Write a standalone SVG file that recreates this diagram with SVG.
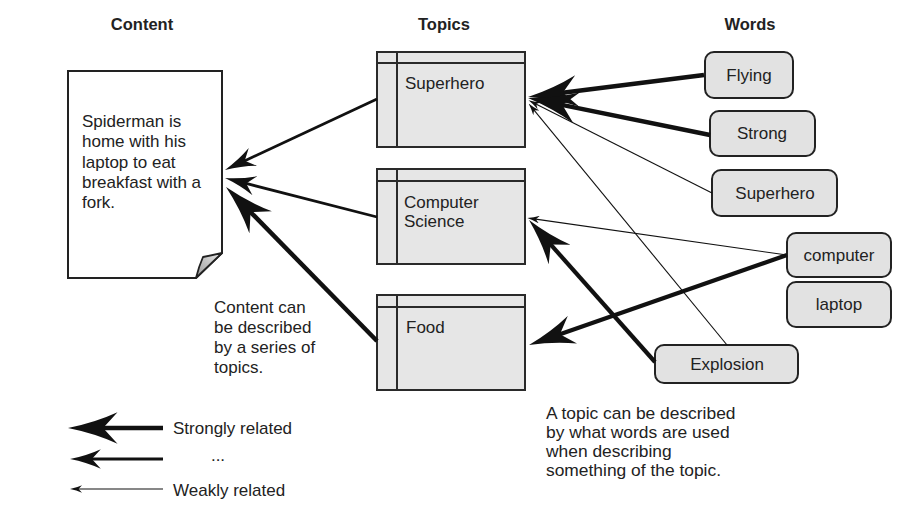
<svg xmlns="http://www.w3.org/2000/svg" width="913" height="524" viewBox="0 0 913 524">
<style>
text{font-family:"Liberation Sans",Arial,sans-serif;font-size:17px;fill:#222}
.h{font-weight:bold;text-anchor:middle;font-size:16.5px}
.c{text-anchor:middle}
.note text{font-size:17.4px}
.topic rect{fill:#e6e6e6;stroke:#2a2a2a;stroke-width:2}
.topic line{stroke:#2a2a2a;stroke-width:2}
.word rect{fill:#e2e2e2;stroke:#222;stroke-width:2}
.a{fill:none;stroke:#111;marker-end:url(#ah)}
.s{stroke-width:4.5}
.m{stroke-width:2.8}
.w{stroke-width:1.1}
</style>
<defs>
<marker id="ah" viewBox="0 0 11 7" markerWidth="11" markerHeight="7" refX="5" refY="3.5" orient="auto" markerUnits="strokeWidth">
<path d="M11,3.5 Q5,2.3 0,0 L3.2,3.5 L0,7 Q5,4.7 11,3.5 Z" fill="#111"/>
</marker>
<linearGradient id="fold" x1="0" y1="1" x2="1" y2="0">
<stop offset="0" stop-color="#9a9a9a"/>
<stop offset="1" stop-color="#e8e8e8"/>
</linearGradient>
</defs>
<rect width="913" height="524" fill="#fff"/>

<text class="h" x="142" y="30">Content</text>
<text class="h" x="444" y="30">Topics</text>
<text class="h" x="750" y="30">Words</text>

<g id="content">
<path d="M68,71 H222 V253 L196,278 H68 Z" fill="#fff" stroke="#222" stroke-width="2"/>
<path d="M196,278 Q199,266 203,257 Q213,255 222,253 Z" fill="url(#fold)" stroke="#222" stroke-width="1.8" stroke-linejoin="round"/>
<text x="82" y="127">Spiderman is</text>
<text x="82" y="147.3">home with his</text>
<text x="82" y="167.6">laptop to eat</text>
<text x="82" y="187.9">breakfast with a</text>
<text x="82" y="208.2">fork.</text>
</g>

<g id="topic-superhero" class="topic">
<rect x="377" y="52" width="148" height="95"/>
<line x1="377" y1="63" x2="525" y2="63"/>
<line x1="397" y1="52" x2="397" y2="147"/>
<text x="405" y="89">Superhero</text>
</g>
<g id="topic-cs" class="topic">
<rect x="377" y="169" width="148" height="95"/>
<line x1="377" y1="181" x2="525" y2="181"/>
<line x1="397" y1="169" x2="397" y2="264"/>
<text x="404" y="208">Computer</text>
<text x="404" y="227">Science</text>
</g>
<g id="topic-food" class="topic">
<rect x="377" y="295" width="148" height="95"/>
<line x1="377" y1="307" x2="525" y2="307"/>
<line x1="397" y1="295" x2="397" y2="390"/>
<text x="406" y="333">Food</text>
</g>

<g id="word-flying" class="word">
<rect x="705" y="52" width="88" height="46" rx="9"/>
<text class="c" x="749" y="81">Flying</text>
</g>
<g id="word-strong" class="word">
<rect x="710" y="111" width="105" height="45" rx="9"/>
<text class="c" x="762" y="139">Strong</text>
</g>
<g id="word-superhero" class="word">
<rect x="712" y="170" width="125" height="46" rx="9"/>
<text class="c" x="775" y="199">Superhero</text>
</g>
<g id="word-computer" class="word">
<rect x="787" y="233" width="104" height="44" rx="9"/>
<text class="c" x="839" y="261">computer</text>
</g>
<g id="word-laptop" class="word">
<rect x="787" y="282" width="104" height="45" rx="9"/>
<text class="c" x="839" y="310">laptop</text>
</g>
<g id="word-explosion" class="word">
<rect x="655" y="345" width="143" height="38" rx="9"/>
<text class="c" x="727" y="370">Explosion</text>
</g>

<g id="connectors">
<line class="a w" x1="712" y1="193" x2="534.4" y2="103.2"/>
<line class="a w" x1="727" y1="345" x2="532.8" y2="108.6"/>
<line class="a w" x1="787" y1="255" x2="533.9" y2="218.9"/>
<line class="a s" x1="704" y1="75" x2="554.8" y2="93.7"/>
<line class="a s" x1="710" y1="135" x2="554.5" y2="103.4"/>
<line class="a s" x1="655" y1="362" x2="545.7" y2="238.9" style="stroke-width:4.2"/>
<line class="a s" x1="787" y1="255" x2="552.8" y2="336.7" style="stroke-width:4.2"/>
<line class="a m" x1="377" y1="99" x2="240.2" y2="162.9"/>
<line class="a m" x1="377" y1="217" x2="241.3" y2="182.2"/>
<line class="a s" x1="377" y1="341" x2="244.9" y2="206.3"/>
</g>

<g id="note-content">
<text x="214" y="313">Content can</text>
<text x="214" y="333">be described</text>
<text x="214" y="353">by a series of</text>
<text x="214" y="373">topics.</text>
</g>
<g id="note-topic" class="note">
<text x="546" y="419">A topic can be described</text>
<text x="546" y="438">by what words are used</text>
<text x="546" y="457">when describing</text>
<text x="546" y="476">something of the topic.</text>
</g>

<g id="legend">
<line class="a s" x1="163" y1="428" x2="95" y2="428"/>
<line class="a m" x1="163" y1="459" x2="86.8" y2="459"/>
<line class="a w" x1="163" y1="489" x2="76.6" y2="489"/>
<text x="173" y="434">Strongly related</text>
<text class="c" x="218" y="461">...</text>
<text x="173" y="496">Weakly related</text>
</g>
</svg>
